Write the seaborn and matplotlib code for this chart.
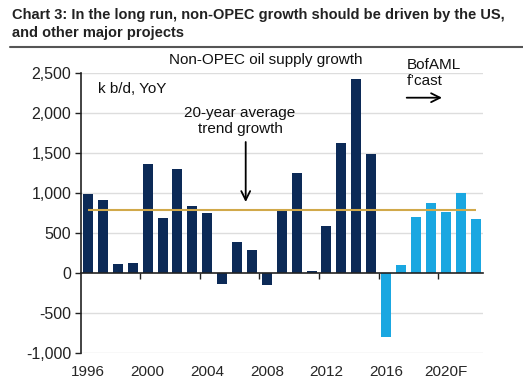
import matplotlib
matplotlib.use("Agg")
import matplotlib.pyplot as plt
from matplotlib.lines import Line2D
import seaborn as sns
import pandas as pd

years = [str(y) for y in range(1996, 2023)]
growth = [990, 910, 110, 130, 1360, 690, 1300, 840, 750, -140, 390, 290,
          -150, 780, 1250, 30, 590, 1630, 2430, 1490, -800, 100, 700, 875,
          760, 1000, 680]
group = ["hist"] * 20 + ["fcast"] * 7
avg_trend = 790
tick_labels = ["1996", "2000", "2004", "2008", "2012", "2016", "2020F"]
yticks = [-1000, -500, 0, 500, 1000, 1500, 2000, 2500]

navy = "#0C2A57"
light = "#1AA7E1"
gold = "#D1A94A"

sns.set_theme(style="white")
plt.rcParams["font.family"] = ["Liberation Sans", "DejaVu Sans"]
plt.rcParams["axes.unicode_minus"] = False

df = pd.DataFrame({"year": years, "growth": growth, "group": group})

fig = plt.figure(figsize=(5.23, 3.84), dpi=100)
ax = fig.add_axes([81 / 523, 1 - 353 / 384, 402 / 523, 280 / 384])

sns.barplot(data=df, x="year", y="growth", hue="group",
            palette={"hist": navy, "fcast": light}, dodge=False,
            width=0.67, legend=False, ax=ax, linewidth=0, saturation=1)

ax.set_ylim(-1000, 2500)
ax.set_xlim(-0.47, 26.5)
ax.set_yticks(yticks)
ax.set_yticklabels([f"{v:,}" for v in yticks], fontsize=11.5, color="#222222")
for v in yticks:
    if v != 0:
        ax.axhline(v, color="#DDDDDD", lw=1.0, zorder=0)

ax.hlines(avg_trend, 0, len(years) - 1, color=gold, lw=1.5, zorder=3)

# x axis: spine at zero, ticks at group boundaries, labels at bottom
pos = [years.index(t[:4]) for t in tick_labels]
ax.set_xticks(pos)
ax.set_xticklabels(tick_labels, fontsize=11.5, color="#222222")
ax.set_xticks([p + 3.5 for p in pos[:-1]], minor=True)
ax.spines["bottom"].set_position(("data", 0))
ax.spines["bottom"].set_color("#222222")
ax.spines["bottom"].set_linewidth(1.2)
ax.spines["bottom"].set_zorder(4)
ax.tick_params(axis="x", which="major", length=0, pad=66)
ax.tick_params(axis="x", which="minor", length=4, width=1, color="#222222",
               direction="out", bottom=True)
ax.spines["left"].set_color("#222222")
ax.spines["left"].set_linewidth(1.2)
ax.tick_params(axis="y", length=4, width=1, color="#222222", left=True,
               direction="out", pad=3)
for s in ["top", "right"]:
    ax.spines[s].set_visible(False)
ax.set_xlabel("")
ax.set_ylabel("")

# Annotations
ax.text((266 - 81) / 402, (353 - 60) / 280, "Non-OPEC oil supply growth",
        transform=ax.transAxes, ha="center", va="center", fontsize=11,
        color="#111111")
ax.text((97.5 - 81) / 402, (353 - 89) / 280, "k b/d, YoY",
        transform=ax.transAxes, ha="left", va="center", fontsize=11,
        color="#111111")
ax.text((240 - 81) / 402, (353 - 121) / 280, "20-year average\ntrend growth",
        transform=ax.transAxes, ha="center", va="center", fontsize=11,
        color="#111111", linespacing=1.15)
ax.annotate("", xy=((245.7 - 81) / 402, (353 - 202) / 280),
            xytext=((245.7 - 81) / 402, (353 - 142) / 280),
            xycoords="axes fraction", textcoords="axes fraction",
            arrowprops=dict(arrowstyle="->", color="black", lw=1.3,
                            mutation_scale=16, shrinkA=0, shrinkB=0))
ax.text((406.7 - 81) / 402, (353 - 73) / 280, "BofAML\nf\u2019cast",
        transform=ax.transAxes, ha="left", va="center", fontsize=11,
        color="#111111", linespacing=1.15, clip_on=False)
ax.annotate("", xy=((442 - 81) / 402, (353 - 97.7) / 280),
            xytext=((406.7 - 81) / 402, (353 - 97.7) / 280),
            xycoords="axes fraction", textcoords="axes fraction",
            arrowprops=dict(arrowstyle="->", color="black", lw=1.3,
                            mutation_scale=16, shrinkA=0, shrinkB=0))

# Title
fig.text(12 / 523, 1 - 15 / 384,
         "Chart 3: In the long run, non-OPEC growth should be driven by the US,",
         ha="left", va="center", fontsize=10.5, fontweight="bold",
         color="#222222")
fig.text(12 / 523, 1 - 33.5 / 384, "and other major projects",
         ha="left", va="center", fontsize=10.5, fontweight="bold",
         color="#222222")
fig.add_artist(Line2D([10 / 523, 1.0], [1 - 46.5 / 384, 1 - 46.5 / 384],
                      transform=fig.transFigure, color="#555555", lw=1.5))

fig.savefig("out.png", dpi=100)
